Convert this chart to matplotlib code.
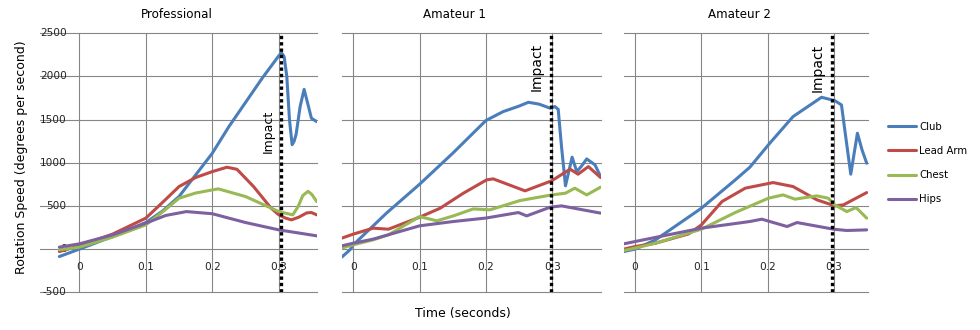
import matplotlib
matplotlib.use('Agg')
import matplotlib.pyplot as plt
import matplotlib.transforms as mtransforms

# ---- data ----
series_names = ['Club', 'Lead Arm', 'Chest', 'Hips']
series_colors = ['#4A7EBB', '#BE4B48', '#98B954', '#7D60A0']
panel_titles = ['Professional', 'Amateur 1', 'Amateur 2']
impact_time = [0.303, 0.298, 0.297]

# Professional
pro_club_t = [-0.030, 0.0, 0.05, 0.10, 0.125, 0.15, 0.175, 0.20, 0.225, 0.25, 0.275, 0.30, 0.304,
              0.308, 0.312, 0.316, 0.320, 0.323, 0.326, 0.332, 0.338, 0.343, 0.349, 0.357]
pro_club = [-86, 0, 146, 308, 440, 610, 860, 1111, 1420, 1700, 1980, 2240, 2275,
            2230, 2000, 1500, 1210, 1250, 1330, 1650, 1851, 1700, 1516, 1477]
pro_arm_t = [-0.030, 0.0, 0.05, 0.10, 0.125, 0.15, 0.175, 0.20, 0.222, 0.237, 0.262, 0.288,
             0.30, 0.31, 0.319, 0.33, 0.342, 0.349, 0.357]
pro_arm = [-28, 38, 174, 359, 540, 725, 830, 898, 949, 925, 725, 478,
           397, 360, 339, 370, 420, 424, 397]
pro_chest_t = [-0.030, 0.0, 0.05, 0.10, 0.125, 0.15, 0.175, 0.20, 0.209, 0.25, 0.30, 0.321,
               0.329, 0.336, 0.344, 0.35, 0.357]
pro_chest = [-8, 23, 139, 281, 430, 590, 650, 686, 698, 609, 435, 397,
             493, 620, 670, 630, 551]
pro_hips_t = [-0.030, 0.0, 0.05, 0.10, 0.13, 0.161, 0.20, 0.25, 0.30, 0.357]
pro_hips = [23, 61, 165, 301, 390, 435, 410, 308, 223, 154]

# Amateur 1
am1_club_t = [-0.0175, -0.005, 0.0, 0.05, 0.10, 0.15, 0.20, 0.226, 0.25, 0.264, 0.28, 0.297,
              0.304, 0.309, 0.314, 0.320, 0.325, 0.330, 0.337, 0.344, 0.352, 0.3645, 0.373]
am1_club = [-93, -8, 50, 417, 752, 1111, 1490, 1593, 1657, 1701, 1680, 1632,
            1651, 1620, 1188, 733, 900, 1065, 898, 960, 1045, 976, 840]
am1_arm_t = [-0.0175, 0.0, 0.03, 0.053, 0.10, 0.131, 0.166, 0.201, 0.211, 0.259, 0.299,
             0.327, 0.339, 0.3545, 0.373]
am1_arm = [127, 174, 243, 231, 370, 474, 648, 802, 814, 675, 791,
           926, 868, 956, 829]
am1_chest_t = [-0.0175, 0.0, 0.03, 0.053, 0.10, 0.126, 0.151, 0.181, 0.206, 0.251, 0.299,
               0.32, 0.334, 0.352, 0.373]
am1_chest = [12, 50, 108, 166, 377, 328, 385, 466, 455, 562, 628,
             648, 706, 628, 718]
am1_hips_t = [-0.0175, 0.0, 0.03, 0.10, 0.151, 0.20, 0.249, 0.2615, 0.297, 0.314, 0.373]
am1_hips = [38, 69, 116, 270, 320, 360, 424, 385, 486, 501, 417]

# Amateur 2
am2_club_t = [-0.017, 0.0, 0.031, 0.10, 0.151, 0.173, 0.203, 0.238, 0.281, 0.301, 0.311,
              0.316, 0.325, 0.335, 0.342, 0.349]
am2_club = [-28, 0, 108, 474, 802, 949, 1227, 1535, 1759, 1720, 1670,
            1381, 868, 1343, 1149, 995]
am2_arm_t = [-0.017, 0.0, 0.031, 0.081, 0.10, 0.131, 0.166, 0.208, 0.238, 0.274, 0.301,
             0.314, 0.349]
am2_arm = [0, 30, 69, 177, 281, 551, 706, 771, 725, 571, 501, 513, 655]
am2_chest_t = [-0.017, 0.0, 0.031, 0.10, 0.151, 0.201, 0.223, 0.241, 0.274, 0.291, 0.301,
               0.319, 0.333, 0.349]
am2_chest = [-16, 12, 69, 231, 424, 590, 628, 579, 617, 590, 513, 435, 482, 359]
am2_hips_t = [-0.017, 0.0, 0.10, 0.173, 0.191, 0.229, 0.244, 0.299, 0.319, 0.349]
am2_hips = [61, 88, 243, 320, 347, 262, 308, 231, 216, 223]

panels = [
    [(pro_club_t, pro_club), (pro_arm_t, pro_arm), (pro_chest_t, pro_chest), (pro_hips_t, pro_hips)],
    [(am1_club_t, am1_club), (am1_arm_t, am1_arm), (am1_chest_t, am1_chest), (am1_hips_t, am1_hips)],
    [(am2_club_t, am2_club), (am2_arm_t, am2_arm), (am2_chest_t, am2_chest), (am2_hips_t, am2_hips)],
]

y_ticks = [-500, 0, 500, 1000, 1500, 2000, 2500]
x_ticks = [0, 0.1, 0.2, 0.3]
x_labels = ['0', '0.1', '0.2', '0.3']

# ---- layout (pixels of a 980x330 figure) ----
W, H = 980, 330
boxes = [(40, 277), (341.7, 259), (624, 243.7)]
xlims = [(-0.0591, 0.3574), (-0.0175, 0.3731), (-0.0166, 0.3505)]
title_x = [177, 454.5, 739]
impact_text_x = [0.2838, 0.2766, 0.2756]
impact_text_y = [1369, 2110, 2104]
impact_size = [9, 10, 10]

fig = plt.figure(figsize=(W / 100, H / 100), dpi=100)
grid_color = '#868686'

lines = []
for i in range(3):
    left, width = boxes[i]
    ax = fig.add_axes([left / W, (H - 292.3) / H, width / W, 259 / H])
    ax.set_xlim(*xlims[i])
    ax.set_ylim(-500, 2500)
    for s in ax.spines.values():
        s.set_visible(False)
    ax.set_xticks(x_ticks)
    ax.set_yticks(y_ticks)
    ax.tick_params(length=0, labelleft=False, labelbottom=False)
    ax.grid(True, color=grid_color, lw=0.8)
    ax.set_axisbelow(True)
    for gl in ax.get_ygridlines() + ax.get_xgridlines():
        gl.set_clip_on(False)

    for (t, v), c in zip(panels[i], series_colors):
        ln, = ax.plot(t, v, color=c, lw=2.2, solid_joinstyle='round',
                      solid_capstyle='round', zorder=3)
        if i == 0:
            lines.append(ln)

    # Excel-style tick labels sitting inside the plot area
    for xt, lab in zip(x_ticks, x_labels):
        ax.annotate(lab, (xt, 0), xytext=(0, -12.7), textcoords='offset points',
                    ha='center', va='center', fontsize=7.6, color='#222222', zorder=2)
    if i == 0:
        trans = mtransforms.blended_transform_factory(ax.transAxes, ax.transData)
        for yt in y_ticks:
            ax.text(26.7 / width, yt, str(yt), transform=trans, ha='right', va='center',
                    fontsize=7.6, color='#222222', zorder=2)

    ax.axvline(impact_time[i], color='black', lw=2.4, ls=(0, (1, 0.9)), zorder=4)
    ax.text(impact_text_x[i], impact_text_y[i], 'Impact', rotation=90, ha='center',
            va='center', fontsize=impact_size[i], zorder=5)

    fig.text(title_x[i] / W, 1 - 15 / H, panel_titles[i], ha='center', va='center',
             fontsize=8.6)

fig.text(21.7 / W, 1 - 157 / H, 'Rotation Speed (degrees per second)', rotation=90,
         ha='center', va='center', fontsize=9)
fig.text(463.3 / W, 1 - 313 / H, 'Time (seconds)', ha='center', va='center', fontsize=9)

fig.legend(lines, series_names, loc='center left', bbox_to_anchor=(888 / W, 1 - 163 / H),
           frameon=False, fontsize=7.3, handlelength=2.8, handletextpad=0.3,
           labelspacing=1.4, borderpad=0, borderaxespad=0)

fig.savefig('out.png', dpi=100)
